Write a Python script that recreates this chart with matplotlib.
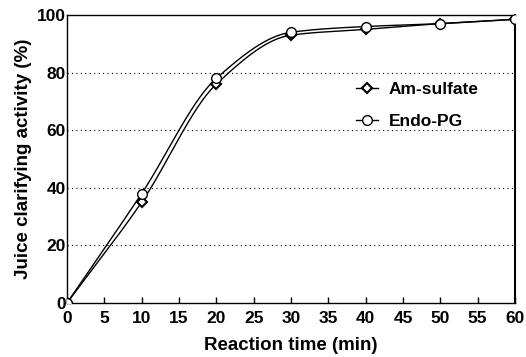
import numpy as np
import matplotlib
matplotlib.use("Agg")
import matplotlib.pyplot as plt

# reaction time (min) and juice clarifying activity (%)
time_min = [0, 10, 20, 30, 40, 50, 60]
am_sulfate = [0, 35, 76, 93, 95, 97, 98.5]
endo_pg = [0, 38, 78, 94, 96, 97, 98.5]

xticks = list(range(0, 61, 5))
yticks = [0, 20, 40, 60, 80, 100]


def pchip(x, y, xs):
    # monotone cubic through the measured points, for a smooth drawn curve
    x = np.asarray(x, float)
    y = np.asarray(y, float)
    h = np.diff(x)
    d = np.diff(y) / h
    m = np.zeros_like(y)
    for i in range(1, len(x) - 1):
        if d[i - 1] * d[i] > 0:
            w1 = 2 * h[i] + h[i - 1]
            w2 = h[i] + 2 * h[i - 1]
            m[i] = (w1 + w2) / (w1 / d[i - 1] + w2 / d[i])
    m[0] = d[0]
    m[-1] = d[-1]
    out = []
    for v in xs:
        k = min(np.searchsorted(x, v, side="right") - 1, len(x) - 2)
        t = (v - x[k]) / h[k]
        h00 = 2 * t**3 - 3 * t**2 + 1
        h10 = t**3 - 2 * t**2 + t
        h01 = -2 * t**3 + 3 * t**2
        h11 = t**3 - t**2
        out.append(h00 * y[k] + h10 * h[k] * m[k] + h01 * y[k + 1] + h11 * h[k] * m[k + 1])
    return np.array(out)


plt.rcParams["font.family"] = ["Liberation Sans", "DejaVu Sans"]

fig = plt.figure(figsize=(5.26, 3.57), dpi=100)
ax = fig.add_axes([0.1274, 0.1513, 0.8516, 0.8067])

xs = np.linspace(0, 60, 400)
ax.plot(xs, pchip(time_min, am_sulfate, xs), color="black", lw=1.0)
ax.plot(xs, pchip(time_min, endo_pg, xs), color="black", lw=1.0)

ax.plot(time_min, am_sulfate, ls="none", marker="D", ms=5, mfc="white",
        mec="black", mew=1.5, zorder=3)
ax.plot(time_min, endo_pg, ls="none", marker="o", ms=7, mfc="white",
        mec="black", mew=1.0, zorder=4)

# legend entries drawn as in the original figure
ax.plot([], [], color="black", lw=1.0, marker="D", ms=5, mfc="white",
        mec="black", mew=1.5, label="Am-sulfate")
ax.plot([], [], color="black", lw=1.0, marker="o", ms=7, mfc="white",
        mec="black", mew=1.0, label="Endo-PG")
leg = ax.legend(loc="upper left", bbox_to_anchor=(0.61, 0.823), frameon=False,
                handlelength=1.3, handletextpad=0.6, labelspacing=1.0,
                prop={"size": 12.5, "weight": "bold"})

ax.set_xlim(0, 60)
ax.set_ylim(0, 100)
ax.set_xticks(xticks)
ax.set_yticks(yticks)
ax.tick_params(axis="x", direction="in", length=4, width=1, pad=6,
               labelsize=12.5)
ax.tick_params(axis="y", length=0, pad=1, labelsize=12.5)
for lab in ax.get_xticklabels() + ax.get_yticklabels():
    lab.set_fontweight("bold")

for yv in [20, 40, 60, 80]:
    ax.axhline(yv, color="black", lw=0.8, ls=(0, (1, 3)), zorder=1)

for s in ax.spines.values():
    s.set_linewidth(1.0)
ax.spines["right"].set_linewidth(1.5)

ax.set_xlabel("Reaction time (min)", fontsize=13.5, fontweight="bold", labelpad=8)
ax.set_ylabel("Juice clarifying activity (%)", fontsize=13.5, fontweight="bold",
              labelpad=3)

fig.savefig("out.png", dpi=100)
